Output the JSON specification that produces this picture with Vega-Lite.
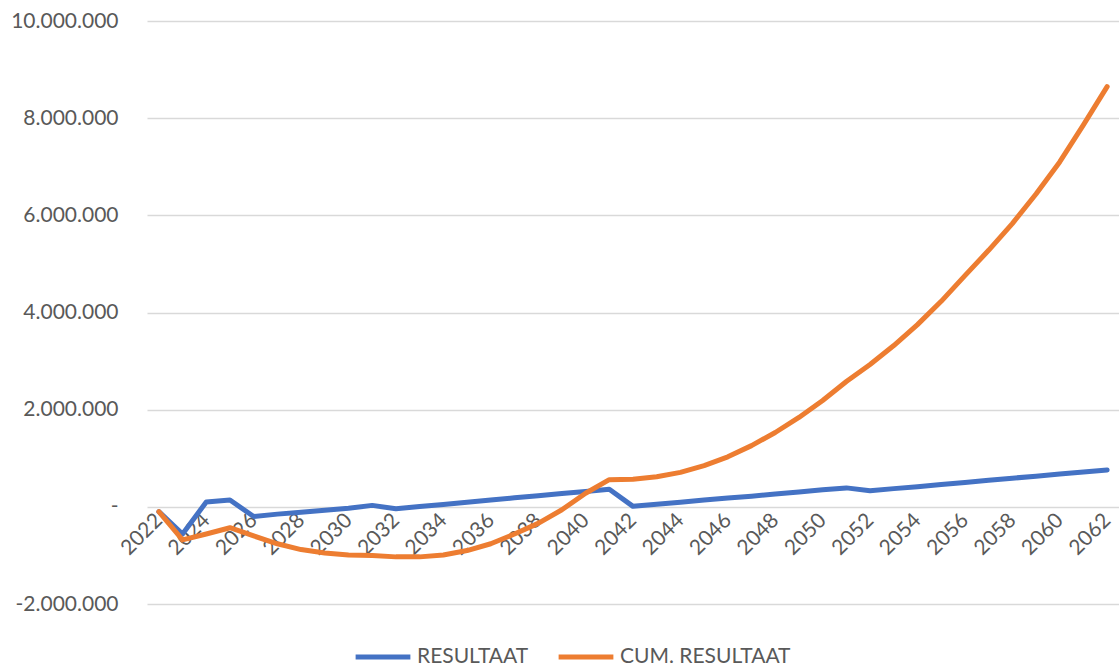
{
  "$schema": "https://vega.github.io/schema/vega-lite/v6.json",
  "width": 972,
  "height": 583,
  "autosize": {"type": "none"},
  "padding": {"left": 147, "top": 21, "right": 0, "bottom": 62},
  "config": {
    "locale": {"number": {"decimal": ",", "thousands": ".", "grouping": [3], "currency": ["€", ""], "minus": "-"}},
    "view": {"stroke": null},
    "font": "Lato"
  },
  "datasets": {
    "rows": [
      {"year": 2022, "RESULTAAT": -100000, "CUM": -100000},
      {"year": 2023, "RESULTAAT": -560000, "CUM": -680000},
      {"year": 2024, "RESULTAAT": 100000, "CUM": -560000},
      {"year": 2025, "RESULTAAT": 140000, "CUM": -430000},
      {"year": 2026, "RESULTAAT": -200000, "CUM": -600000},
      {"year": 2027, "RESULTAAT": -150000, "CUM": -760000},
      {"year": 2028, "RESULTAAT": -110000, "CUM": -880000},
      {"year": 2029, "RESULTAAT": -70000, "CUM": -950000},
      {"year": 2030, "RESULTAAT": -30000, "CUM": -990000},
      {"year": 2031, "RESULTAAT": 30000, "CUM": -1000000},
      {"year": 2032, "RESULTAAT": -40000, "CUM": -1030000},
      {"year": 2033, "RESULTAAT": 5000, "CUM": -1030000},
      {"year": 2034, "RESULTAAT": 50000, "CUM": -990000},
      {"year": 2035, "RESULTAAT": 95000, "CUM": -900000},
      {"year": 2036, "RESULTAAT": 140000, "CUM": -760000},
      {"year": 2037, "RESULTAAT": 185000, "CUM": -560000},
      {"year": 2038, "RESULTAAT": 230000, "CUM": -340000},
      {"year": 2039, "RESULTAAT": 275000, "CUM": -60000},
      {"year": 2040, "RESULTAAT": 315000, "CUM": 280000},
      {"year": 2041, "RESULTAAT": 360000, "CUM": 560000},
      {"year": 2042, "RESULTAAT": 10000, "CUM": 570000},
      {"year": 2043, "RESULTAAT": 55000, "CUM": 620000},
      {"year": 2044, "RESULTAAT": 95000, "CUM": 710000},
      {"year": 2045, "RESULTAAT": 140000, "CUM": 850000},
      {"year": 2046, "RESULTAAT": 180000, "CUM": 1030000},
      {"year": 2047, "RESULTAAT": 220000, "CUM": 1260000},
      {"year": 2048, "RESULTAAT": 265000, "CUM": 1530000},
      {"year": 2049, "RESULTAAT": 305000, "CUM": 1840000},
      {"year": 2050, "RESULTAAT": 350000, "CUM": 2190000},
      {"year": 2051, "RESULTAAT": 390000, "CUM": 2580000},
      {"year": 2052, "RESULTAAT": 330000, "CUM": 2930000},
      {"year": 2053, "RESULTAAT": 375000, "CUM": 3320000},
      {"year": 2054, "RESULTAAT": 415000, "CUM": 3750000},
      {"year": 2055, "RESULTAAT": 460000, "CUM": 4230000},
      {"year": 2056, "RESULTAAT": 500000, "CUM": 4760000},
      {"year": 2057, "RESULTAAT": 545000, "CUM": 5280000},
      {"year": 2058, "RESULTAAT": 590000, "CUM": 5830000},
      {"year": 2059, "RESULTAAT": 630000, "CUM": 6440000},
      {"year": 2060, "RESULTAAT": 675000, "CUM": 7100000},
      {"year": 2061, "RESULTAAT": 715000, "CUM": 7860000},
      {"year": 2062, "RESULTAAT": 760000, "CUM": 8650000}
    ]
  },
  "data": {"name": "rows"},
  "transform": [
    {"fold": ["RESULTAAT", "CUM"], "as": ["key", "value"]},
    {"calculate": "datum.key == 'CUM' ? 'CUM. RESULTAAT' : 'RESULTAAT'", "as": "series"}
  ],
  "encoding": {
    "x": {
      "field": "year",
      "type": "quantitative",
      "scale": {"domain": [2021.5, 2062.5], "nice": false, "zero": false},
      "axis": {
        "values": [2022, 2024, 2026, 2028, 2030, 2032, 2034, 2036, 2038, 2040, 2042, 2044, 2046, 2048, 2050, 2052, 2054, 2056, 2058, 2060, 2062],
        "format": "d",
        "labelAngle": -45,
        "labelAlign": "right",
        "labelBaseline": "middle",
        "grid": false,
        "domain": false,
        "ticks": false,
        "offset": -97,
        "labelPadding": 10,
        "labelFontSize": 21,
        "labelColor": "#595959",
        "labelFlush": false,
        "labelOverlap": false,
        "title": null
      }
    },
    "y": {
      "field": "value",
      "type": "quantitative",
      "scale": {"domain": [-2000000, 10000000], "nice": false},
      "axis": {
        "values": [-2000000, 0, 2000000, 4000000, 6000000, 8000000, 10000000],
        "labelExpr": "datum.value == 0 ? '-\u2007' : format(datum.value, ',')",
        "grid": true,
        "gridColor": "#D9D9D9",
        "gridWidth": 1.5,
        "domain": false,
        "ticks": false,
        "labelPadding": 29,
        "labelFontSize": 21,
        "labelColor": "#595959",
        "title": null
      }
    },
    "color": {
      "field": "series",
      "type": "nominal",
      "scale": {"domain": ["RESULTAAT", "CUM. RESULTAAT"], "range": ["#4472C4", "#ED7D31"]},
      "legend": {
        "orient": "none",
        "legendX": 206,
        "legendY": 606,
        "direction": "horizontal",
        "title": null,
        "symbolType": "stroke",
        "symbolSize": 3000,
        "symbolStrokeWidth": 5,
        "labelFontSize": 21,
        "labelColor": "#595959",
        "labelLimit": 400,
        "labelOffset": 4,
        "columnPadding": 19
      }
    }
  },
  "layer": [
    {
      "transform": [{"filter": "datum.series == 'RESULTAAT'"}],
      "mark": {"type": "line", "strokeWidth": 5, "strokeJoin": "round", "strokeCap": "round"}
    },
    {
      "transform": [{"filter": "datum.series == 'CUM. RESULTAAT'"}],
      "mark": {"type": "line", "strokeWidth": 5, "strokeJoin": "round", "strokeCap": "round"}
    }
  ]
}
